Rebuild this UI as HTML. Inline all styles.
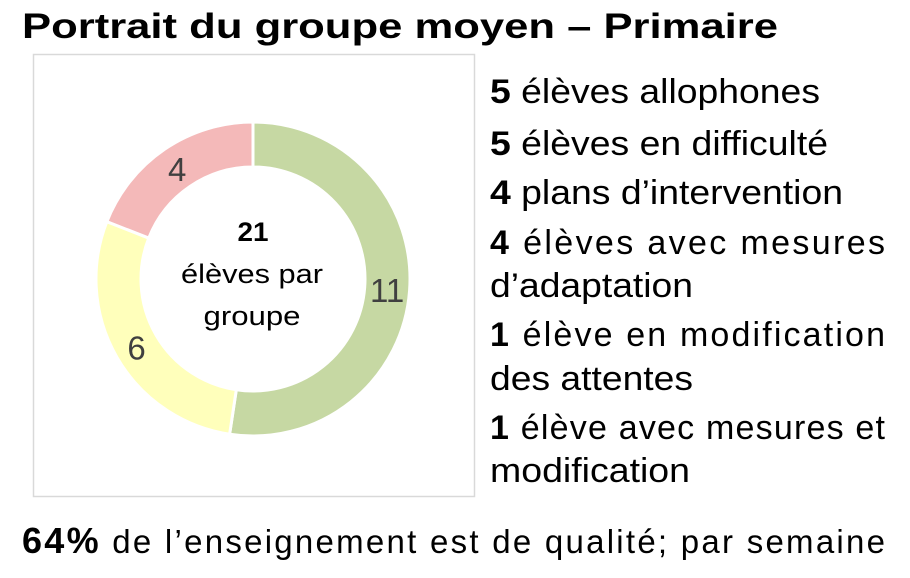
<!DOCTYPE html>
<html><head><meta charset="utf-8"><style>
html,body{margin:0;padding:0;background:#fff;width:910px;height:578px;overflow:hidden}
svg{display:block;font-family:"Liberation Sans",Arial,sans-serif}
</style></head><body>
<svg width="910" height="578" viewBox="0 0 910 578">
<text x="22" y="38" font-size="35" font-weight="bold" fill="#000" textLength="756" lengthAdjust="spacingAndGlyphs">Portrait du groupe moyen – Primaire</text>
<rect x="33.5" y="54.5" width="441" height="442" fill="#fff" stroke="#d9d9d9" stroke-width="1.5"/>
<g id="donut"></g>
<g font-size="27" fill="#000" text-anchor="middle">
<text x="253" y="241" font-weight="bold" textLength="31" lengthAdjust="spacingAndGlyphs">21</text>
<text x="252" y="283" textLength="142" lengthAdjust="spacingAndGlyphs">élèves par</text>
<text x="252" y="325" textLength="97" lengthAdjust="spacingAndGlyphs">groupe</text>
</g>
<g font-size="34" fill="#000">
<text x="490" y="103" textLength="330" lengthAdjust="spacingAndGlyphs"><tspan font-weight="bold">5</tspan> élèves allophones</text>
<text x="490" y="155" textLength="338" lengthAdjust="spacingAndGlyphs"><tspan font-weight="bold">5</tspan> élèves en difficulté</text>
<text x="490" y="204" textLength="353" lengthAdjust="spacingAndGlyphs"><tspan font-weight="bold">4</tspan> plans d’intervention</text>
<text x="490" y="254" textLength="395" lengthAdjust="spacing"><tspan font-weight="bold">4</tspan> élèves avec mesures</text>
<text x="490" y="297" textLength="203" lengthAdjust="spacingAndGlyphs">d’adaptation</text>
<text x="490" y="346" textLength="395" lengthAdjust="spacing"><tspan font-weight="bold">1</tspan> élève en modification</text>
<text x="490" y="390" textLength="203" lengthAdjust="spacingAndGlyphs">des attentes</text>
<text x="490" y="439" textLength="395" lengthAdjust="spacing"><tspan font-weight="bold">1</tspan> élève avec mesures et</text>
<text x="490" y="482" textLength="200" lengthAdjust="spacingAndGlyphs">modification</text>
</g>
<text x="22" y="553" font-size="33" fill="#000" textLength="863" lengthAdjust="spacing"><tspan font-weight="bold" font-size="36">64%</tspan> de l’enseignement est de qualité; par semaine</text>
</svg>
<script>
const categories = ["Vert", "Jaune", "Rose"];
const values = [11, 6, 4];
const colors = ["#c6d8a3", "#ffffbb", "#f4b9b9"];
const cx = 253, cy = 279, R = 157, r = 112;
const g = document.getElementById('donut');
const NS = "http://www.w3.org/2000/svg";
const total = values.reduce((a, b) => a + b, 0);
function pt(rad, a) { return [cx + rad * Math.sin(a), cy - rad * Math.cos(a)]; }
let acc = 0;
values.forEach((v, i) => {
  const a0 = acc / total * 2 * Math.PI;
  acc += v;
  const a1 = acc / total * 2 * Math.PI;
  const large = (a1 - a0) > Math.PI ? 1 : 0;
  const [x0, y0] = pt(R, a0), [x1, y1] = pt(R, a1), [x2, y2] = pt(r, a1), [x3, y3] = pt(r, a0);
  const p = document.createElementNS(NS, 'path');
  p.setAttribute('d', `M${x0},${y0} A${R},${R} 0 ${large} 1 ${x1},${y1} L${x2},${y2} A${r},${r} 0 ${large} 0 ${x3},${y3} Z`);
  p.setAttribute('fill', colors[i]);
  p.setAttribute('stroke', '#fff');
  p.setAttribute('stroke-width', '3');
  
  
  g.appendChild(p);
  const am = (a0 + a1) / 2;
  const [lx, ly] = pt((R + r) / 2, am);
  const t = document.createElementNS(NS, 'text');
  t.setAttribute('x', lx);
  t.setAttribute('y', ly + 13);
  t.setAttribute('text-anchor', 'middle');
  t.setAttribute('font-size', '33');
  t.setAttribute('fill', '#404040');
  t.textContent = v;
  
  
  g.appendChild(t);
});
</script>
</body></html>
